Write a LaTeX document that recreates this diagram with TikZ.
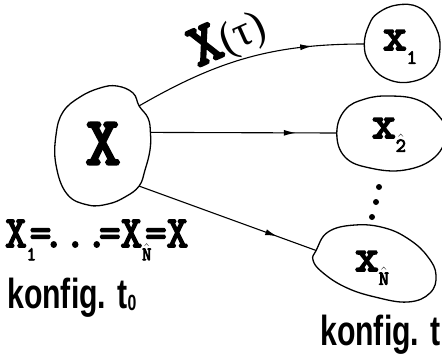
\documentclass[tikz,border=0pt]{standalone}
\usepackage{fontspec}
\usepackage{amsmath}
\setmainfont{Liberation Serif}
\setsansfont{Liberation Sans}
\newfontfamily\typew{Latin Modern Mono}[FakeBold=4]
\usetikzlibrary{positioning,shapes,decorations.markings,arrows.meta}
\newcommand{\hsub}[1]{\raisebox{-0.3em}{\fontsize{20}{20}\selectfont$\hat{\text{\typew #1}}$}}
\newcommand{\psub}[1]{\raisebox{-0.3em}{\fontsize{20}{20}\selectfont\typew #1}}

\begin{document}
\begin{tikzpicture}[x=1pt,y=-1pt,
  blob/.style={line width=1.3pt, line join=round},
  conf/.style={ellipse, inner sep=0pt},
  lbl/.style={inner sep=0pt, font=\typew\fontsize{46}{46}\selectfont},
  link/.style={line width=1.1pt, postaction={decorate},
    decoration={markings, mark=at position 0.78 with {\arrow{Latex[length=12pt,width=6pt]}}}}]
\useasboundingbox[fill=white] (0,0) rectangle (442,354);
% configurations
\node[conf, minimum width=97pt, minimum height=119pt] (X) at (103,146) {\raisebox{5pt}{\typew\fontsize{68}{68}\selectfont X}};
\node[conf, minimum width=75pt, minimum height=77pt] (x1) at (402,44) {};
\node[conf, minimum width=108pt, minimum height=73pt] (x2) at (391,133) {};
\node[conf, minimum width=124pt, minimum height=77pt] (xN) at (375,263) {};
\node[lbl] (x1t) at (400,47) {x\psub{1}};
\node[lbl] (x2t) at (389,135) {x\hsub{2}};
\node[lbl] (xNt) at (372,268) {x\hsub{N}};
% outlines
\draw[blob] plot[smooth cycle, tension=0.7] coordinates {(100,88) (117,86) (133,93) (X.48) (148,118) (X.16) (150,150) (145,170) (X.-48) (125,197) (108,204) (88,205) (67,194) (56,165) (56,135) (63,112) (80,97)};
\draw[blob] plot[smooth cycle, tension=0.7] coordinates {(x1.west) (369,25) (378,13) (397,5) (418,7) (433,22) (440,45) (433,70) (410,82) (385,78) (369,62)};
\draw[blob] plot[smooth cycle, tension=0.7] coordinates {(x2.west) (345,110) (365,99) (390,96) (418,100) (438,115) (446,133) (435,157) (405,170) (370,168) (345,157)};
\draw[blob] plot[smooth cycle, tension=0.7] coordinates {(xN.168) (328,232) (355,225) (385,228) (410,240) (428,257) (436,275) (430,293) (408,302) (375,297) (345,287) (322,272) (313,260)};
% motions
\draw[link] (X.48) to[out=30, in=180] (x1.west);
\draw[link] (X.16) -- (x2.west);
\draw[link] (X.-48) -- (xN.168);
\node[rotate=24, inner sep=0pt] (tau) at (228,39) {{\typew\fontsize{60}{60}\selectfont X}{\fontsize{44}{44}\selectfont(τ)}};
\foreach \p in {(379,187),(376,202),(372,217)}{\fill \p circle (3pt);}
% texts
\node[anchor=base west, inner sep=0pt] (eq) at (5,247) {\resizebox{183pt}{27pt}{\typew\fontsize{46}{46}\selectfont X\psub{1}\kern-.15em=\kern-.2em...\kern-.2em=X\hsub{N}\kern-.15em=X}};
\node[anchor=base west, inner sep=0pt] (k0) at (7,308) {\scalebox{0.72}[1]{\sffamily\bfseries\fontsize{42}{42}\selectfont konfig. t\raisebox{-2pt}{\fontsize{22}{22}\selectfont 0}}};
\node[anchor=base west, inner sep=0pt] (kt) at (320,345) {\scalebox{0.72}[1]{\sffamily\bfseries\fontsize{42}{42}\selectfont konfig. t}};
\end{tikzpicture}
\end{document}
